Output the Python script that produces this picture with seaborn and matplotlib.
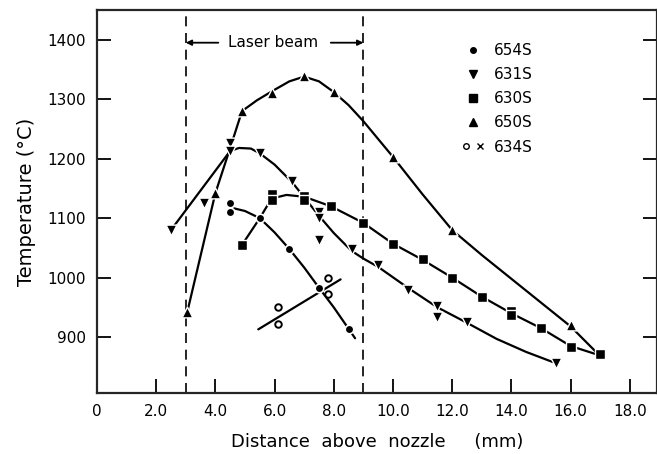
import numpy as np
import pandas as pd
import matplotlib
matplotlib.use("Agg")
import matplotlib.pyplot as plt
import seaborn as sns
from matplotlib.lines import Line2D
from matplotlib.legend_handler import HandlerTuple

# measured points (distance mm, temperature C)
s654_x = [4.5, 4.5, 5.5, 6.5, 7.5, 8.5]
s654_y = [1126, 1110, 1100, 1048, 983, 914]
s631_x = [2.5, 3.6, 4.5, 4.5, 5.5, 6.6, 7.5, 7.5, 7.5, 8.6, 9.5, 10.5, 11.5, 11.5, 12.5, 15.5]
s631_y = [1080, 1126, 1226, 1213, 1209, 1163, 1110, 1100, 1063, 1048, 1022, 980, 952, 934, 925, 856]
s630_x = [4.9, 5.9, 5.9, 7.0, 7.0, 7.9, 9.0, 10.0, 11.0, 12.0, 13.0, 14.0, 14.0, 15.0, 16.0, 17.0]
s630_y = [1055, 1140, 1130, 1138, 1130, 1120, 1092, 1057, 1032, 1000, 968, 944, 937, 916, 883, 871]
s650_x = [3.05, 4.0, 4.9, 5.9, 7.0, 8.0, 10.0, 12.0, 16.0]
s650_y = [942, 1142, 1280, 1311, 1339, 1312, 1203, 1080, 920]
s634_x = [6.1, 6.1, 7.8, 7.8]
s634_y = [951, 922, 999, 972]

# hand drawn curves through the data
c654_x = [4.5, 5.0, 5.5, 6.0, 6.5, 7.0, 7.5, 8.0, 8.5, 8.72]
c654_y = [1118, 1112, 1100, 1076, 1048, 1017, 983, 950, 914, 898]
c631_x = [2.5, 4.5, 4.8, 5.2, 5.5, 6.0, 6.6, 7.0, 7.5, 8.0, 8.6, 9.0, 9.5, 10.5, 11.5, 12.5, 13.5, 14.5, 15.4]
c631_y = [1080, 1213, 1218, 1217, 1209, 1190, 1160, 1135, 1104, 1075, 1045, 1032, 1018, 983, 950, 924, 897, 875, 858]
c630_x = [4.9, 5.5, 5.9, 6.4, 7.0, 7.9, 9.0, 10.0, 11.0, 12.0, 13.0, 14.0, 15.0, 16.0, 17.0]
c630_y = [1055, 1100, 1133, 1139, 1136, 1120, 1092, 1057, 1030, 1000, 968, 940, 915, 885, 869]
c650_x = [3.05, 4.0, 4.5, 4.9, 5.4, 5.9, 6.5, 7.0, 7.5, 8.0, 8.5, 9.0, 10.0, 11.0, 12.0, 13.0, 14.0, 15.0, 16.0, 16.9]
c650_y = [942, 1142, 1218, 1280, 1298, 1313, 1330, 1338, 1330, 1312, 1290, 1263, 1203, 1140, 1080, 1038, 998, 958, 918, 873]
c634_x = [5.45, 8.23]
c634_y = [913, 997]

xticks = [0, 2, 4, 6, 8, 10, 12, 14, 16, 18]
xticklabels = ["0", "2.0", "4.0", "6.0", "8.0", "10.0", "12.0", "14.0", "16.0", "18.0"]
yticks = [900, 1000, 1100, 1200, 1300, 1400]
beam_x = [3.0, 9.0]

sns.set_style("ticks")
plt.rcParams["font.family"] = ["DejaVu Sans"]
plt.rcParams["text.color"] = "black"
plt.rcParams["axes.labelcolor"] = "black"
plt.rcParams["xtick.color"] = "black"
plt.rcParams["ytick.color"] = "black"

fig = plt.figure(figsize=(6.57, 4.54), dpi=100)
ax = fig.add_axes([0.1476, 0.1344, 0.8524, 0.8436])   # right spine sits on the image edge

# curves
for cx, cy in [(c654_x, c654_y), (c631_x, c631_y), (c630_x, c630_y), (c650_x, c650_y), (c634_x, c634_y)]:
    sns.lineplot(x=cx, y=cy, sort=False, estimator=None, color="black", lw=1.6, ax=ax)

# points (white edge leaves the little gap of the hand drawn lines)
sns.scatterplot(x=s654_x, y=s654_y, marker="o", s=38, color="black", edgecolor="white", linewidth=1.2, ax=ax, zorder=3)
sns.scatterplot(x=s631_x, y=s631_y, marker="v", s=60, color="black", edgecolor="white", linewidth=1.0, ax=ax, zorder=3)
sns.scatterplot(x=s630_x, y=s630_y, marker="s", s=60, color="black", edgecolor="white", linewidth=1.0, ax=ax, zorder=3)
sns.scatterplot(x=s650_x, y=s650_y, marker="^", s=60, color="black", edgecolor="white", linewidth=1.0, ax=ax, zorder=3)
sns.scatterplot(x=s634_x, y=s634_y, marker="o", s=22, facecolor="white", edgecolor="black", linewidth=1.4, ax=ax, zorder=3)

# laser beam region
for bx in beam_x:
    ax.axvline(bx, color="black", ls=(0, (6, 4)), lw=1.2)
ax.text(5.95, 1395, "Laser beam", ha="center", va="center", fontsize=11)
ax.annotate("", xy=(3.0, 1395), xytext=(4.1, 1395), arrowprops=dict(arrowstyle="-|>", color="black", lw=1.3, mutation_scale=8, shrinkA=0, shrinkB=0))
ax.annotate("", xy=(9.0, 1395), xytext=(7.9, 1395), arrowprops=dict(arrowstyle="-|>", color="black", lw=1.3, mutation_scale=8, shrinkA=0, shrinkB=0))

ax.set_xlim(0, 18.92)
ax.set_ylim(806, 1450)
ax.set_xticks(xticks)
ax.set_xticklabels(xticklabels)
ax.set_yticks(yticks)
ax.tick_params(direction="in", length=10, width=1.3, labelsize=11, pad=8, right=True)
for sp in ax.spines.values():
    sp.set_linewidth(1.6)
ax.set_xlabel("Distance  above  nozzle     (mm)", fontsize=13, labelpad=10)
ax.set_ylabel("Temperature (°C)", fontsize=14, labelpad=8)

handles = [
    Line2D([], [], ls="", marker="o", ms=4, color="black"),
    Line2D([], [], ls="", marker="v", ms=6, color="black"),
    Line2D([], [], ls="", marker="s", ms=6, color="black"),
    Line2D([], [], ls="", marker="^", ms=6, color="black"),
    (Line2D([], [], ls="", marker="o", ms=4, mfc="white", mec="black"),
     Line2D([], [], ls="", marker="x", ms=4, color="black")),
]
ax.legend(handles, ["654S", "631S", "630S", "650S", "634S"], loc="upper left", bbox_to_anchor=(0.625, 0.95),
          frameon=False, fontsize=11, labelspacing=0.6, handlelength=1.6, handletextpad=0.6,
          handler_map={tuple: HandlerTuple(ndivide=None, pad=0.3)})

plt.savefig("out.png", dpi=100)
